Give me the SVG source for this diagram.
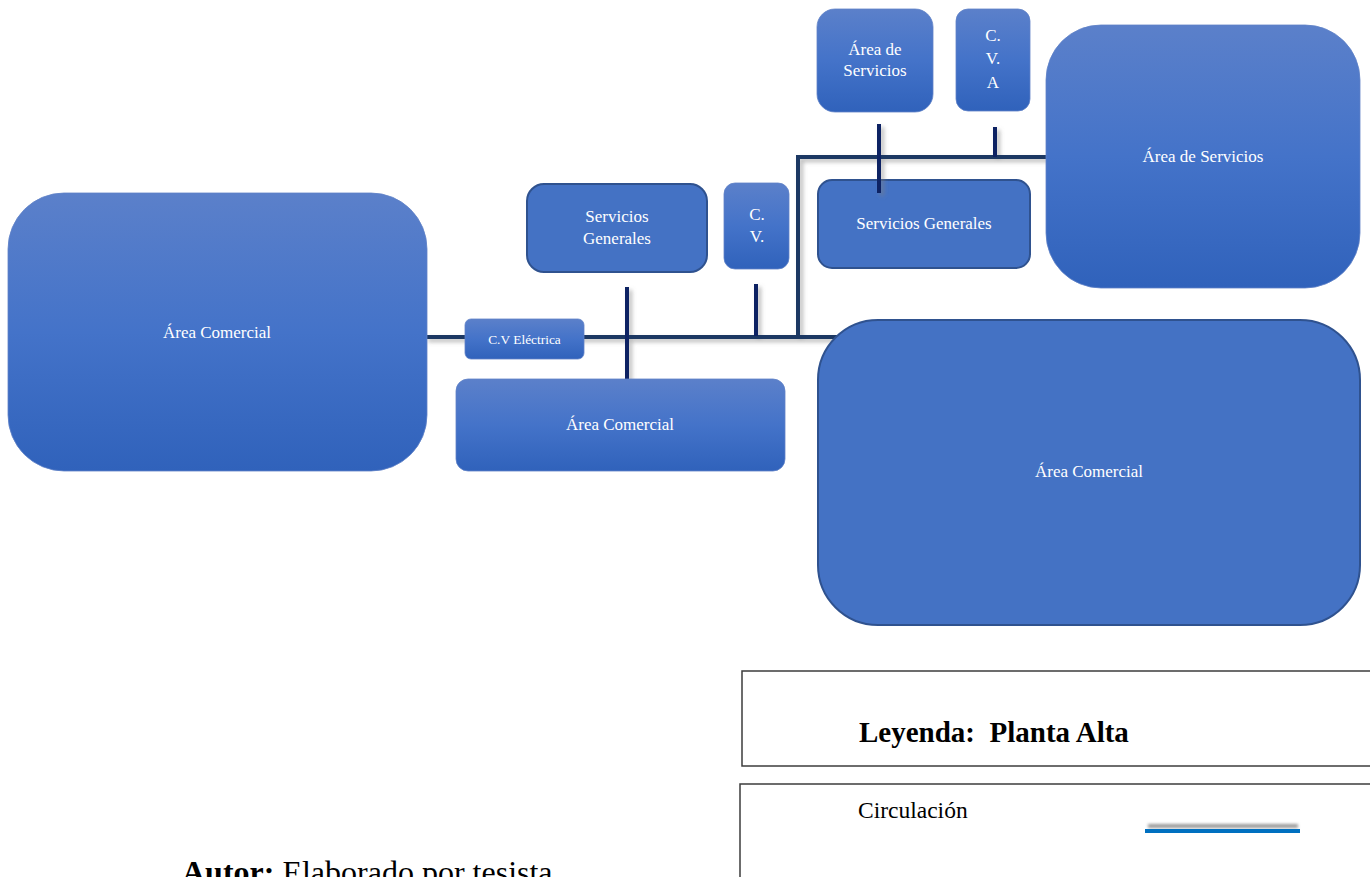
<svg xmlns="http://www.w3.org/2000/svg" width="1370" height="877" viewBox="0 0 1370 877">
  <defs>
    <linearGradient id="fillGrad" x1="0" y1="0" x2="0" y2="1">
      <stop offset="0" stop-color="#5b80ca"/>
      <stop offset="0.5" stop-color="#4473c9"/>
      <stop offset="1" stop-color="#3062bb"/>
    </linearGradient>
    <!-- user-space region so zero-width/height lines still render -->
    <filter id="lineShadow" filterUnits="userSpaceOnUse" x="0" y="0" width="1370" height="877">
      <feDropShadow dx="3" dy="3" stdDeviation="2.2" flood-color="#808080" flood-opacity="0.55"/>
    </filter>
    <filter id="legendShadow" filterUnits="userSpaceOnUse" x="1100" y="800" width="250" height="60">
      <feGaussianBlur stdDeviation="1.6"/>
    </filter>
    <style>
      .box { fill: url(#fillGrad); stroke: #5f82c6; stroke-width: 0.8; }
      .boxLine { fill: #4472c4; stroke: #2f528f; stroke-width: 2; }
      .lbl { fill: #ffffff; font-family: "Liberation Serif", "Times New Roman", serif; font-size: 17px; text-anchor: middle; }
      .main { stroke: #1f3864; stroke-width: 4; fill: none; }
      .branch { stroke: #0b2463; stroke-width: 4; fill: none; }
      .frame { fill: #ffffff; stroke: #3c3c3c; stroke-width: 1.5; }
      .serif { font-family: "Liberation Serif", "Times New Roman", serif; fill: #000000; }
    </style>
  </defs>

  <rect width="1370" height="877" fill="#ffffff"/>

  <!-- rooms that sit beneath the circulation lines -->
  <g id="servicios-generales-2">
    <rect class="boxLine" x="818" y="180" width="212" height="88" rx="14"/>
    <text class="lbl" x="924" y="229">Servicios Generales</text>
  </g>

  <!-- circulation lines -->
  <g id="connectors" filter="url(#lineShadow)">
    <line class="main" x1="425" y1="337" x2="850" y2="337"/>
    <polyline class="main" points="798,336 798,157 1050,157"/>
    <line class="branch" x1="627" y1="287" x2="627" y2="380"/>
    <line class="branch" x1="756" y1="284" x2="756" y2="336"/>
    <line class="branch" x1="879" y1="124" x2="879" y2="193"/>
    <line class="branch" x1="995" y1="127" x2="995" y2="157"/>
  </g>

  <g id="area-comercial-1">
    <rect class="box" x="8" y="193" width="419" height="278" rx="56"/>
    <text class="lbl" x="217" y="338">Área Comercial</text>
  </g>

  <g id="cv-electrica">
    <rect class="box" x="465" y="319" width="119" height="40" rx="6"/>
    <text class="lbl" x="524.5" y="344" style="font-size:13.4px">C.V Eléctrica</text>
  </g>

  <g id="servicios-generales-1">
    <rect class="boxLine" x="527" y="184" width="180" height="88" rx="17"/>
    <text class="lbl" x="617" y="222">Servicios</text>
    <text class="lbl" x="617" y="244">Generales</text>
  </g>

  <g id="cv">
    <rect class="box" x="724" y="183" width="65" height="86" rx="11"/>
    <text class="lbl" x="757" y="220">C.</text>
    <text class="lbl" x="757" y="242">V.</text>
  </g>

  <g id="area-comercial-2">
    <rect class="box" x="456" y="379" width="329" height="92" rx="12"/>
    <text class="lbl" x="620" y="430">Área Comercial</text>
  </g>

  <g id="area-servicios-1">
    <rect class="box" x="817" y="9" width="116" height="103" rx="18"/>
    <text class="lbl" x="875" y="55">Área de</text>
    <text class="lbl" x="875" y="76">Servicios</text>
  </g>

  <g id="cva">
    <rect class="box" x="956" y="9" width="74" height="102" rx="12"/>
    <text class="lbl" x="993" y="41">C.</text>
    <text class="lbl" x="993" y="64">V.</text>
    <text class="lbl" x="993" y="88">A</text>
  </g>

  <g id="area-servicios-2">
    <rect class="box" x="1046" y="25" width="314" height="263" rx="55"/>
    <text class="lbl" x="1203" y="162">Área de Servicios</text>
  </g>

  <g id="area-comercial-3">
    <rect class="boxLine" x="818" y="320" width="542" height="305" rx="60"/>
    <text class="lbl" x="1089" y="477">Área Comercial</text>
  </g>

  <!-- legend -->
  <g id="legend-title">
    <rect class="frame" x="742" y="671" width="640" height="95"/>
    <text class="serif" x="859" y="742" font-size="29" font-weight="bold" xml:space="preserve">Leyenda:  Planta Alta</text>
  </g>

  <g id="legend-key">
    <rect class="frame" x="740" y="784" width="640" height="110"/>
    <text class="serif" x="858" y="818" font-size="23.5">Circulación</text>
    <line x1="1148" y1="826" x2="1298" y2="826" stroke="#9a9a9a" stroke-width="4" filter="url(#legendShadow)"/>
    <line x1="1145" y1="831" x2="1300" y2="831" stroke="#0070c0" stroke-width="4"/>
  </g>

  <g id="author">
    <text class="serif" x="182" y="883" font-size="32"><tspan font-weight="bold">Autor:</tspan> Elaborado por tesista</text>
  </g>
</svg>
